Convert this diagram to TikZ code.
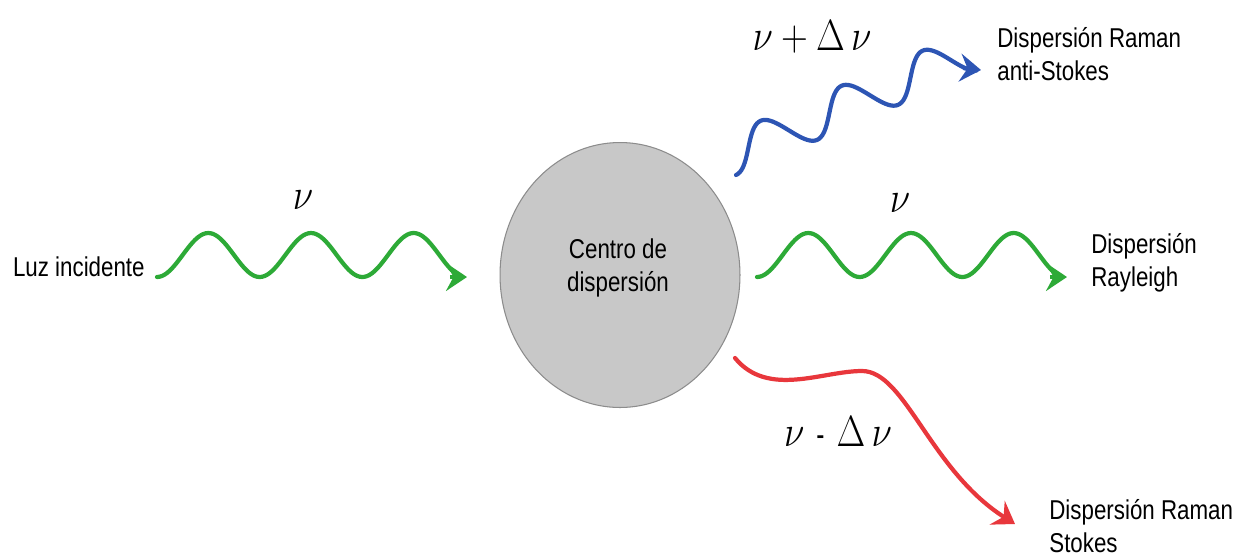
\documentclass[tikz,border=0pt]{standalone}
\usepackage{fontspec}
\setmainfont{Liberation Sans}[FakeStretch=0.82]
\usetikzlibrary{arrows.meta,shapes.geometric,positioning}
\definecolor{wavegreen}{RGB}{45,170,55}
\definecolor{waveblue}{RGB}{45,85,180}
\definecolor{wavered}{RGB}{232,55,60}
\definecolor{centrofill}{RGB}{200,200,200}
\begin{document}
\begin{tikzpicture}[x=0.02cm,y=-0.02cm,
  wave/.style={line width=2.4pt,line cap=round},
  tip/.style={line width=2.4pt,-{Stealth[length=4.2mm,width=5.6mm,inset=1.5mm]}},
  greenwave/.style={wave,draw=wavegreen},
  bluewave/.style={wave,draw=waveblue},
  redwave/.style={wave,tip,draw=wavered},
  greentip/.style={tip,draw=wavegreen},
  bluetip/.style={tip,draw=waveblue},
  lbl/.style={align=left,inner sep=0pt,font=\fontsize{15.5}{18.7}\selectfont},
  freq/.style={inner sep=0pt,font=\fontsize{29}{34}\selectfont},
  centro/.style={ellipse,draw=black!45,line width=0.6pt,fill=centrofill,
    minimum width=4.8cm,minimum height=5.3cm}]
\useasboundingbox (0,0) rectangle (1258,559);

\node[centro] (centro) at (620,275) {};
\node[lbl,align=center] (centrotxt) at (618,268) {Centro de\\dispersión};

\node[lbl,anchor=east] (luz) at (145,267) {Luz incidente};
\node[lbl,anchor=west] (rayleigh) at (1091,263) {Dispersión\\Rayleigh};
\node[lbl,anchor=west] (antistokes) at (997,54) {Dispersión Raman\\anti-Stokes};
\node[lbl,anchor=west] (stokes) at (1049,526) {Dispersión Raman\\Stokes};

\node[freq] (nuin) at (303,200) {\scalebox{0.85}[1]{$\nu$}};
\node[freq] (nuray) at (900,203) {\scalebox{0.85}[1]{$\nu$}};
\node[freq] (nuas) at (812,37) {\scalebox{0.85}[1]{$\nu+\Delta\,\nu$}};
\node[freq] (nus) at (838,432) {\scalebox{0.85}[1]{$\nu$\;{\fontsize{20}{24}\selectfont -}\;$\Delta\,\nu$}};

\coordinate (inA) at (157,277);
\coordinate (inT) at (450,277);
\coordinate (inB) at (467,277);
\coordinate (rayA) at (757,277);
\coordinate (rayT) at (1050,277);
\coordinate (rayB) at (1067,277);
\coordinate (asA) at (736,175);
\coordinate (asT) at (963,68);
\coordinate (asB) at (981,70);
\coordinate (sA) at (735,358);
\coordinate (sB) at (1015,524);

\draw[greenwave,shift={(inA)}] plot[domain=0:2.97,samples=120,smooth]
  ({102.67*\x},{-22*(1-cos(360*\x))});
\draw[greentip] (inT) -- (inB);
\draw[greenwave,shift={(rayA)}] plot[domain=0:2.97,samples=120,smooth]
  ({102.67*\x},{-22*(1-cos(360*\x))});
\draw[greentip] (rayT) -- (rayB);
\draw[bluewave,shift={(asA)},rotate=23.4] plot[domain=0:2.97,samples=120,smooth]
  ({88.33*\x},{-20*(1-cos(360*\x))});
\draw[bluetip] (asT) -- (asB);
\draw[redwave] (sA)
  .. controls (768,398) and (822,371) .. (862,371)
  .. controls (905,371) and (930,470) .. (sB);
\end{tikzpicture}
\end{document}
